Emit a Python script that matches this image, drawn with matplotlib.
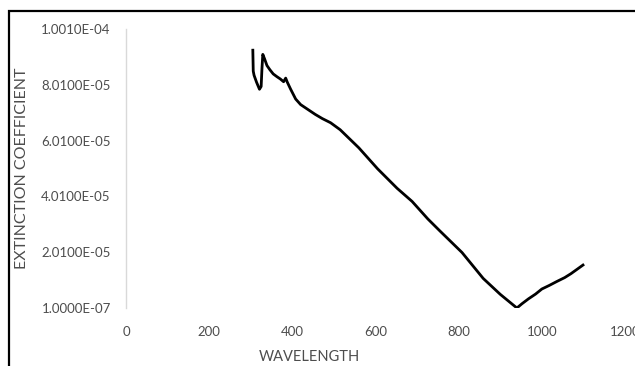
import matplotlib.pyplot as plt
from matplotlib.patches import Rectangle

# values
wavelength = [305, 306, 308, 314, 321, 325, 327, 329, 333, 339, 346, 354, 363,
              371, 379, 384, 388, 396, 408, 420, 428, 440, 455, 472, 492, 515,
              560, 605, 652, 688, 726, 755, 808, 859, 900, 940, 952, 968, 985,
              1000, 1018, 1036, 1055, 1070, 1085, 1099]
extinction = [9.25e-5, 8.5e-5, 8.35e-5, 8.1e-5, 7.85e-5, 7.95e-5, 8.6e-5, 9.1e-5,
              8.95e-5, 8.7e-5, 8.55e-5, 8.4e-5, 8.3e-5, 8.22e-5, 8.12e-5, 8.25e-5,
              8.1e-5, 7.85e-5, 7.5e-5, 7.3e-5, 7.22e-5, 7.1e-5, 6.95e-5, 6.8e-5,
              6.65e-5, 6.4e-5, 5.75e-5, 5.0e-5, 4.3e-5, 3.83e-5, 3.2e-5, 2.77e-5,
              2.0e-5, 1.07e-5, 5.0e-6, 1.0e-7, 1.6e-6, 3.4e-6, 5.1e-6, 6.9e-6,
              8.2e-6, 9.6e-6, 1.1e-5, 1.24e-5, 1.4e-5, 1.55e-5]

x_ticks = [0, 200, 400, 600, 800, 1000, 1200]
y_ticks = [1.0e-7, 2.01e-5, 4.01e-5, 6.01e-5, 8.01e-5, 1.001e-4]

plt.rcParams['font.family'] = ['Lato', 'DejaVu Sans']
grey = '#4d4d4d'

fig = plt.figure(figsize=(6.35, 3.66), dpi=100)
ax = fig.add_axes([126 / 635, 58 / 366, 499 / 635, 279 / 366])

ax.plot(wavelength, extinction, color='black', lw=2.0, solid_joinstyle='round')

ax.set_xlim(0, 1200)
ax.set_ylim(1.0e-7, 1.001e-4)
ax.set_xticks(x_ticks)
ax.set_xticklabels([str(t) for t in x_ticks])
ax.set_yticks(y_ticks)
ax.set_yticklabels([f"{v:.4E}" for v in y_ticks])
ax.tick_params(length=0, labelsize=9.5, colors=grey)
ax.tick_params(axis='x', pad=13)
ax.tick_params(axis='y', pad=11)

for s in ['top', 'right', 'bottom']:
    ax.spines[s].set_visible(False)
ax.spines['left'].set_color('#d9d9d9')
ax.spines['left'].set_linewidth(1.0)

fig.text(22 / 635, (366 - 168) / 366, 'EXTINCTION COEFFICIENT', rotation=90,
         ha='center', va='center', fontsize=11.5, color=grey)
fig.text(309 / 635, (366 - 357) / 366, 'WAVELENGTH', ha='center', va='center',
         fontsize=10.5, color=grey)

# chart frame (cropped on the right and bottom)
fig.patches.append(Rectangle((8.5 / 635, -0.1), 2.0, (366 - 10.5) / 366 + 0.1,
                             transform=fig.transFigure, fill=False,
                             edgecolor='black', lw=1.6))

fig.savefig('out.png', dpi=100)
